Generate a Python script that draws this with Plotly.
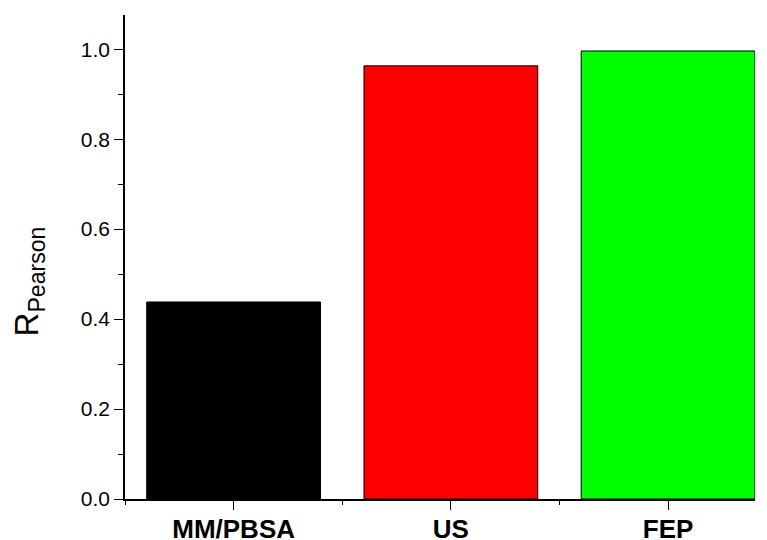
import plotly.graph_objects as go

categories = ["MM/PBSA", "US", "FEP"]
r_pearson = [0.438, 0.963, 0.996]
bar_colors = ["#000000", "#FF0000", "#00FF00"]
y_tick_vals = [0.0, 0.2, 0.4, 0.6, 0.8, 1.0]

xpos = list(range(len(categories)))
minor_x = [i - 0.5 for i in xpos]

fig = go.Figure(go.Bar(
    x=xpos, y=r_pearson, width=0.8,
    marker=dict(color=bar_colors, line=dict(color="#000000", width=1)),
))

# page body has an 8px margin, so the figure is offset by (8, 8)
fig.update_layout(
    width=759, height=532,
    margin=dict(l=117, r=12, t=7, b=41, autoexpand=False),
    plot_bgcolor="white", paper_bgcolor="white",
    showlegend=False,
    font=dict(family="Arial, Liberation Sans, sans-serif", color="black"),
    annotations=[dict(
        text="R<sub>Pearson</sub>", textangle=-90,
        xref="paper", yref="paper", x=-0.152, y=0.45,
        xanchor="center", yanchor="middle", showarrow=False,
        font=dict(size=33, family="Arial, Liberation Sans, sans-serif", color="black"),
    )],
)
fig.update_xaxes(
    range=[-0.5, 2.4], automargin=False,
    tickmode="array", tickvals=xpos, ticktext=categories,
    tickfont=dict(family="Liberation Sans, Arial, sans-serif", size=26, weight="bold"),
    ticklabelstandoff=-3,
    ticks="outside", ticklen=9, tickwidth=1.3, tickcolor="black",
    showline=True, linecolor="black", linewidth=1.5,
    showgrid=False, zeroline=False,
    minor=dict(tickmode="array", tickvals=minor_x, ticks="outside", ticklen=4, tickwidth=1.3, tickcolor="black"),
)
fig.update_yaxes(
    range=[0, 1.076], automargin=False,
    tickmode="array", tickvals=y_tick_vals, tickformat=".1f",
    tickfont=dict(size=21),
    ticks="outside", ticklen=9, tickwidth=1.3, tickcolor="black",
    showline=True, linecolor="black", linewidth=1.5,
    showgrid=False, zeroline=False,
    minor=dict(tick0=0.1, dtick=0.2, ticks="outside", ticklen=5, tickwidth=1.3, tickcolor="black"),
)

fig.write_html("out.html")
